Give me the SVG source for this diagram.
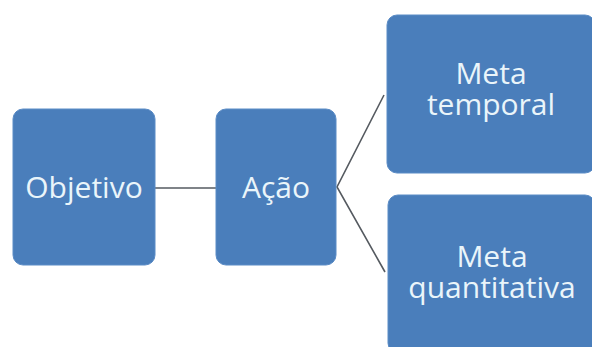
<svg xmlns="http://www.w3.org/2000/svg" width="592" height="347" viewBox="0 0 592 347">
<style>
.box{fill:#4a7ebb;stroke:#5b8cc6;stroke-width:1}
.lbl{font-family:"Open Sans","Noto Sans",sans-serif;font-size:30px;fill:#eaf5fa;text-anchor:middle}
.conn{stroke:#555a60;stroke-width:1.6;fill:none}
</style>
<rect width="592" height="347" fill="#ffffff"/>
<g id="connectors">
<line class="conn" x1="155" y1="188" x2="216" y2="188"/>
<polyline class="conn" points="384,95 337,187 385,272"/>
</g>
<g id="objetivo">
<rect class="box" x="13" y="109" width="142" height="156" rx="10"/>
<text class="lbl" x="84" y="198">Objetivo</text>
</g>
<g id="acao">
<rect class="box" x="216" y="109" width="120" height="156" rx="10"/>
<text class="lbl" x="276" y="198">Ação</text>
</g>
<g id="meta-temporal">
<rect class="box" x="387" y="15" width="208" height="158" rx="10"/>
<text class="lbl" x="491" y="84"><tspan x="491" y="84">Meta</tspan><tspan x="491" y="115">temporal</tspan></text>
</g>
<g id="meta-quantitativa">
<rect class="box" x="388" y="195" width="207" height="158" rx="10"/>
<text class="lbl" x="492" y="267"><tspan x="492" y="267">Meta</tspan><tspan x="492" y="298">quantitativa</tspan></text>
</g>
</svg>
